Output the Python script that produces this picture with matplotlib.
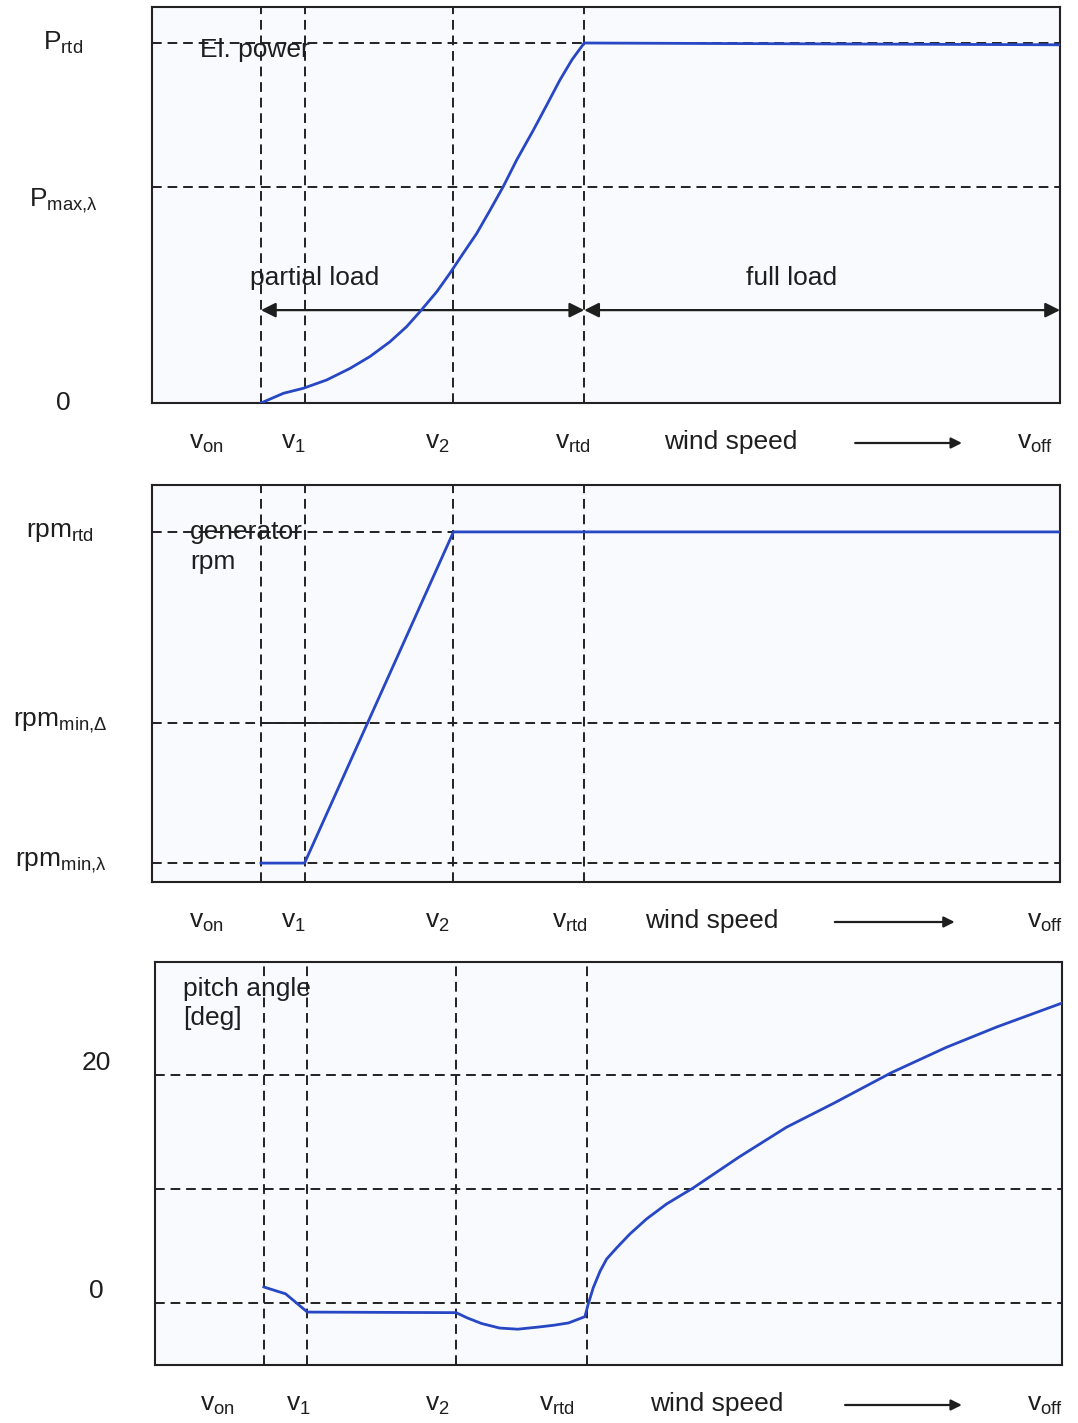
import numpy as np
import matplotlib
matplotlib.use("Agg")
import matplotlib.pyplot as plt
import matplotlib.transforms as mtransforms

plt.rcParams['font.family'] = ['Liberation Sans', 'DejaVu Sans']
plt.rcParams['mathtext.fontset'] = 'custom'
plt.rcParams['mathtext.rm'] = 'Liberation Sans'

# ---------------- data ----------------
# characteristic wind speeds (abstract scale, v_off = 25)
v_on, v_1, v_2, v_rtd, v_off = 3.0, 4.2, 8.3, 11.9, 25.0
v_marks = [v_on, v_1, v_2, v_rtd]
v_labels = [r'$\mathregular{v_{on}}$', r'$\mathregular{v_{1}}$', r'$\mathregular{v_{2}}$',
            r'$\mathregular{v_{rtd}}$']
v_off_label = r'$\mathregular{v_{off}}$'

# panel 1: electrical power (normalised, P_rtd = 1)
power_wind = [3.0, 3.62, 4.17, 4.81, 5.45, 6.0, 6.55, 7.01, 7.38, 7.84, 8.2, 8.57, 8.94,
              9.31, 9.67, 10.04, 10.5, 10.87, 11.23, 11.56, 11.9, 25.0]
power_val = [0.0, 0.027, 0.041, 0.064, 0.096, 0.129, 0.170, 0.212, 0.254, 0.309, 0.360,
             0.416, 0.471, 0.536, 0.601, 0.675, 0.758, 0.828, 0.897, 0.953, 1.0, 0.995]
P_rtd, P_max_lambda = 1.0, 0.6
power_ticks = [0.0, P_max_lambda, P_rtd]
power_ticklabels = ['0', r'$\mathregular{P_{max{,}λ}}$', r'$\mathregular{P_{rtd}}$']

# panel 2: generator rpm (normalised, rpm_rtd = 1)
rpm_wind = [3.0, 4.2, 8.3, 25.0]
rpm_val = [0.054, 0.054, 1.0, 1.0]
rpm_rtd, rpm_min_delta, rpm_min_lambda = 1.0, 0.454, 0.054
rpm_ticks = [rpm_min_lambda, rpm_min_delta, rpm_rtd]
rpm_ticklabels = [r'$\mathregular{rpm_{min{,}λ}}$', r'$\mathregular{rpm_{min{,}Δ}}$',
                  r'$\mathregular{rpm_{rtd}}$']

# panel 3: pitch angle [deg]
pitch_wind = [3.0, 3.6, 4.2, 8.3, 8.6, 9.0, 9.5, 10.0, 10.6, 11.0, 11.4, 11.85, 11.94,
              12.08, 12.27, 12.45, 12.73, 13.09, 13.55, 14.1, 14.84, 16.1, 17.4, 18.7,
              20.3, 21.8, 23.2, 25.0]
pitch_val = [1.4, 0.8, -0.8, -0.85, -1.3, -1.8, -2.2, -2.3, -2.1, -1.95, -1.75, -1.2, -0.1,
             1.34, 2.8, 3.86, 4.85, 6.05, 7.37, 8.68, 10.1, 12.8, 15.4, 17.5,
             20.2, 22.4, 24.2, 26.3]
pitch_grid = [0, 10, 20]
pitch_ticks = [0, 20]
pitch_ticklabels = ['0', '20']

# ---------------- style ----------------
W, H = 1078, 1423
fig = plt.figure(figsize=(W / 100, H / 100), dpi=100)
fig.patch.set_facecolor('white')
BLUE = '#2747c4'
TXT = '#1e1e1e'
FS = 19
DASH = (0, (5, 3))


def px_axes(l, t, r, b):
    return fig.add_axes([l / W, 1 - b / H, (r - l) / W, (b - t) / H])


def setup(ax, ylim, hgrid, ticks, ticklabels, pad, tick_va='center'):
    ax.set_facecolor('#f8fafd')
    ax.set_xlim(0, v_off)
    ax.set_ylim(*ylim)
    for s in ax.spines.values():
        s.set_linewidth(1.5)
        s.set_color('#222222')
    ax.set_xticks([])
    ax.set_yticks(ticks, ticklabels)
    ax.tick_params(axis='y', length=0, pad=pad, labelsize=FS, labelcolor=TXT)
    for lab in ax.get_yticklabels():
        lab.set_horizontalalignment('center')
        lab.set_verticalalignment(tick_va)
    for v in v_marks:
        ax.axvline(v, color='#222222', lw=1.4, ls=DASH, zorder=1)
    for h in hgrid:
        ax.axhline(h, color='#222222', lw=1.4, ls=DASH, zorder=1)


def bottom_labels(ax, xs, wind_x, arrow_x, voff_x):
    tr = mtransforms.offset_copy(ax.get_xaxis_transform(), fig=fig, y=-46, units='dots')
    for x, lab in zip(xs, v_labels):
        ax.text(x, 0, lab, transform=tr, ha='center', va='baseline', fontsize=FS, color=TXT,
                clip_on=False)
    ax.text(wind_x, 0, 'wind speed', transform=tr, ha='center', va='baseline', fontsize=FS,
            color=TXT, clip_on=False)
    ax.text(voff_x, 0, v_off_label, transform=tr, ha='center', va='baseline', fontsize=FS,
            color=TXT, clip_on=False)
    tra = mtransforms.offset_copy(ax.get_xaxis_transform(), fig=fig, y=-40, units='dots')
    ax.annotate('', xy=(arrow_x[1], 0), xytext=(arrow_x[0], 0), xycoords=tra, textcoords=tra,
                arrowprops=dict(arrowstyle='-|>', color=TXT, lw=1.6, mutation_scale=16,
                                shrinkA=0, shrinkB=0), annotation_clip=False)


# ---------------- panel 1 ----------------
ax1 = px_axes(152, 7, 1060, 403)
setup(ax1, (0, 1.1), [P_max_lambda, P_rtd], power_ticks, power_ticklabels, pad=64)
ax1.get_yticklabels()[1].set_verticalalignment('top')
ax1.plot(power_wind, power_val, color=BLUE, lw=2, zorder=3)
ax1.text(1.32, 0.98, 'El. power', ha='left', va='center', fontsize=FS, color=TXT, zorder=2)
ax1.text(4.49, 0.347, 'partial load', ha='center', va='center', fontsize=FS, color=TXT)
ax1.text(17.6, 0.347, 'full load', ha='center', va='center', fontsize=FS, color=TXT)
arrow_y = 0.258
for a, b in [(v_on, v_rtd), (v_rtd, v_off)]:
    ax1.annotate('', xy=(b, arrow_y), xytext=(a, arrow_y),
                 arrowprops=dict(arrowstyle='<|-|>', color=TXT, lw=1.6, mutation_scale=22,
                                 shrinkA=0, shrinkB=0), annotation_clip=False, zorder=2)
bottom_labels(ax1, [1.51, 3.88, 7.85, 11.59], 15.94, (19.36, 22.3), 24.31)

# ---------------- panel 2 ----------------
ax2 = px_axes(152, 485, 1060, 882)
setup(ax2, (0, 1.134), rpm_ticks, rpm_ticks, rpm_ticklabels, pad=66)
ax2.plot(rpm_wind, rpm_val, color=BLUE, lw=2, zorder=3)
x_cross = np.interp(rpm_min_delta, rpm_val[1:3], rpm_wind[1:3])
ax2.plot([v_on, x_cross], [rpm_min_delta, rpm_min_delta], color='#222222', lw=1.4, zorder=2)
ax2.text(1.05, 1.034, 'generator\nrpm', ha='left', va='top', fontsize=FS, color=TXT,
         linespacing=1.3, zorder=2)
bottom_labels(ax2, [1.51, 3.88, 7.85, 11.51], 15.42, (18.8, 22.1), 24.59)

# ---------------- panel 3 ----------------
ax3 = px_axes(155, 962, 1062, 1365)
setup(ax3, (-5.44, 29.9), pitch_grid, pitch_ticks, pitch_ticklabels, pad=42, tick_va='bottom')
ax3.plot(pitch_wind, pitch_val, color=BLUE, lw=2, zorder=3)
ax3.text(0.77, 28.6, 'pitch angle\n[deg]', ha='left', va='top', fontsize=FS, color=TXT,
         linespacing=1.25, zorder=2)
bottom_labels(ax3, [1.71, 3.94, 7.77, 11.08], 15.49, (19.02, 22.24), 24.53)

fig.savefig('out.png', dpi=100, facecolor=fig.get_facecolor())
